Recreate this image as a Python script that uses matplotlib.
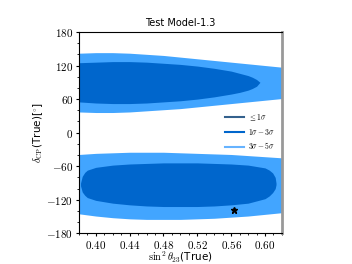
"""
Test Model-1.3: allowed region in (sin^2 theta23, delta_CP) plane
"""

import matplotlib
matplotlib.use("Agg")
import matplotlib.pyplot as plt
from matplotlib import ticker

matplotlib.rcParams.update({
    "mathtext.fontset": "cm",
    "font.family": "DejaVu Sans",
    "axes.unicode_minus": True,
})

# upper island, 3sigma-5sigma (light) band
up_light_x = [0.38, 0.40, 0.42, 0.44, 0.46, 0.48, 0.50, 0.52, 0.54, 0.56, 0.58, 0.60, 0.62]
up_light_top = [142, 143, 143, 142, 140, 138, 135, 132, 129, 126, 123, 120, 117]
up_light_bot = [37, 36, 36, 37, 39, 41, 43, 46, 49, 52, 55, 58, 61]

# upper island, 1sigma-3sigma (dark) tongue
up_dark_x = [0.38, 0.40, 0.42, 0.44, 0.46, 0.48, 0.50, 0.52, 0.54, 0.56, 0.57, 0.58, 0.585, 0.59, 0.594]
up_dark_top = [125, 126, 127, 127, 126, 124, 122, 119, 115, 110, 106, 102, 99, 95, 90]
up_dark_bot = [55, 53, 52, 52, 53, 55, 57, 60, 64, 69, 72, 76, 79, 83, 90]

# lower island, 3sigma-5sigma (light) band
lo_light_x = [0.38, 0.40, 0.42, 0.44, 0.46, 0.48, 0.50, 0.52, 0.54, 0.56, 0.58, 0.60, 0.62]
lo_light_top = [-39, -37, -36, -35, -35, -35, -36, -37, -38, -39, -41, -43, -45]
lo_light_bot = [-145, -149, -152, -154, -155, -155, -155, -154, -153, -151, -149, -146, -143]

# lower island, 1sigma-3sigma (dark) ellipse
lo_dark_x = [0.382, 0.384, 0.387, 0.39, 0.40, 0.42, 0.44, 0.46, 0.48, 0.50, 0.52, 0.54,
             0.56, 0.58, 0.60, 0.605, 0.609, 0.612, 0.613]
lo_dark_top = [-90, -78, -71, -67, -62, -58, -56, -55, -54, -54, -54, -55,
               -56, -58, -63, -67, -72, -80, -90]
lo_dark_bot = [-95, -106, -112, -116, -121, -126, -129, -131, -132, -132, -132, -131,
               -129, -126, -118, -113, -107, -100, -93]

# best-fit / true point
star_x = [0.563]
star_y = [-138]

x_ticks = [0.40, 0.44, 0.48, 0.52, 0.56, 0.60]
y_ticks = [-180, -120, -60, 0, 60, 120, 180]

legend_labels = [r"$\leq 1\sigma$", r"$1\sigma - 3\sigma$", r"$3\sigma - 5\sigma$"]

DARK = "#0066cc"
LIGHT = "#42a5ff"
LEG_COLORS = ["#34618d", "#0066cc", "#66b3ff"]


def main():
    fig = plt.figure(figsize=(3.52, 2.64), dpi=100)
    ax = fig.add_axes([0.224, 0.116, 0.577, 0.763])

    ax.fill_between(up_light_x, up_light_bot, up_light_top, color=LIGHT, lw=0)
    ax.fill_between(up_dark_x, up_dark_bot, up_dark_top, color=DARK, lw=0)
    ax.fill_between(lo_light_x, lo_light_bot, lo_light_top, color=LIGHT, lw=0)
    ax.fill_between(lo_dark_x, lo_dark_bot, lo_dark_top, color=DARK, lw=0)
    ax.plot(star_x, star_y, "k*", markersize=5)

    handles = []
    for lab, col in zip(legend_labels, LEG_COLORS):
        h, = ax.plot([], [], color=col, lw=1.5, label=lab)
        handles.append(h)
    ax.legend(handles=handles, loc="center right", bbox_to_anchor=(1.0, 0.505),
              frameon=False, fontsize=5.5, handlelength=2.4, labelspacing=0.5,
              handletextpad=0.6)

    ax.set_xlim(0.38, 0.62)
    ax.set_ylim(-180, 180)
    ax.set_xticks(x_ticks)
    ax.set_yticks(y_ticks)
    ax.xaxis.set_minor_locator(ticker.MultipleLocator(0.01))
    ax.yaxis.set_minor_locator(ticker.MultipleLocator(20))
    ax.xaxis.set_major_formatter(ticker.FuncFormatter(lambda v, p: r"$%.2f$" % v))
    ax.yaxis.set_major_formatter(ticker.FuncFormatter(lambda v, p: r"$%d$" % round(v)))
    ax.tick_params(axis="both", which="major", direction="out", length=2.5, width=0.8,
                   labelsize=8, pad=1.5, top=False, right=False)
    ax.tick_params(axis="both", which="minor", direction="out", length=1.5, width=0.6,
                   top=False, right=False)

    ax.spines["right"].set_color("#999999")
    ax.spines["right"].set_linewidth(2)

    ax.set_title("Test Model-1.3", fontsize=7, pad=4)
    ax.set_xlabel(r"$\sin^2\theta_{23}$(True)", fontsize=7.5, labelpad=-1)
    ax.set_ylabel(r"$\delta_{\rm CP}$(True)[$^{\circ}$]", fontsize=7.5, labelpad=1)

    fig.savefig("out.png", dpi=100)
    plt.close(fig)


if __name__ == "__main__":
    main()
